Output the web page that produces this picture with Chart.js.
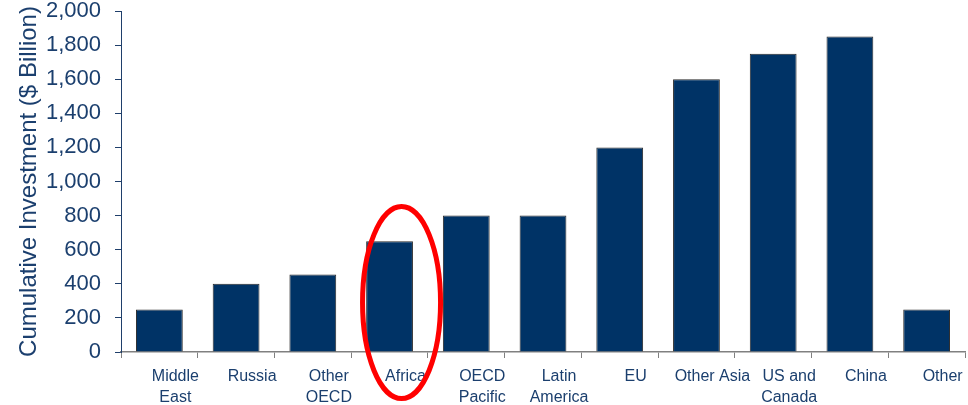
<!DOCTYPE html>
<html>
<head>
<meta charset="utf-8">
<script src="https://cdn.jsdelivr.net/npm/chart.js@4"></script>
<style>
  html, body { margin: 0; padding: 0; background: #fff; }
  #wrap { width: 968px; height: 405px; position: relative; }
</style>
</head>
<body>
<div id="wrap"><canvas id="chart"></canvas></div>
<script>
// chart data
const regions = [
    ['Middle', 'East'], 'Russia', ['Other', 'OECD'], 'Africa', ['OECD', 'Pacific'],
    ['Latin', 'America'], 'EU', 'Other Asia', ['US and', 'Canada'], 'China', 'Other'
];
const investment = [250, 400, 455, 650, 800, 800, 1200, 1600, 1750, 1850, 250];
const yTicks = [0, 200, 400, 600, 800, 1000, 1200, 1400, 1600, 1800, 2000];

const textColor = '#1b3f6e';
const highlightIndex = 3; // Africa

// red ring around the highlighted region
const ringPlugin = {
    id: 'ring',
    afterDraw(chart) {
        const ctx = chart.ctx;
        const x = chart.scales.x.getPixelForValue(highlightIndex) + 12;
        const y = chart.scales.y.getPixelForValue(290);
        ctx.save();
        ctx.strokeStyle = '#ff0000';
        ctx.lineWidth = 5;
        ctx.beginPath();
        ctx.ellipse(x, y, 39, 96, 0, 0, Math.PI * 2);
        ctx.stroke();
        ctx.restore();
    }
};

const ctx = document.getElementById('chart').getContext('2d');
new Chart(ctx, {
    type: 'bar',
    data: {
        labels: regions,
        datasets: [{
            data: investment,
            backgroundColor: '#003366',
            borderColor: '#2a2a2a',
            borderWidth: 1,
            barPercentage: 0.61,
            categoryPercentage: 1
        }]
    },
    options: {
        responsive: true,
        maintainAspectRatio: false,
        animation: false,
        layout: { padding: { top: 11, right: 3, left: 0, bottom: 0 } },
        plugins: {
            legend: { display: false },
            tooltip: { enabled: false }
        },
        scales: {
            x: {
                afterFit(scale) { scale.height = 53; },
                border: { color: '#808080', width: 1.5 },
                grid: {
                    offset: true,
                    drawOnChartArea: false,
                    drawTicks: true,
                    tickLength: 6,
                    color: '#808080'
                },
                ticks: {
                    color: textColor,
                    font: { family: 'Liberation Sans, Arial', size: 16, lineHeight: 1.3 },
                    maxRotation: 0,
                    autoSkip: false,
                    labelOffset: 16,
                    padding: 8
                }
            },
            y: {
                min: 0,
                max: 2000,
                afterFit(scale) {
                    scale.width = 121;
                    scale.paddingTop = 0;
                    scale.paddingBottom = 0;
                },
                afterBuildTicks(scale) { scale.ticks = yTicks.map(v => ({ value: v })); },
                border: { color: '#1f3f6b', width: 1 },
                grid: {
                    drawOnChartArea: false,
                    drawTicks: true,
                    tickLength: 6,
                    color: '#1f3f6b'
                },
                ticks: {
                    color: textColor,
                    font: { family: 'Liberation Sans, Arial', size: 22 },
                    padding: 14,
                    callback: v => v.toLocaleString('en-US')
                },
                title: {
                    display: true,
                    text: 'Cumulative Investment ($ Billion)',
                    color: textColor,
                    font: { family: 'Liberation Sans, Arial', size: 24 },
                    padding: { top: 15, bottom: 0 }
                }
            }
        }
    },
    plugins: [ringPlugin]
});
</script>
</body>
</html>
